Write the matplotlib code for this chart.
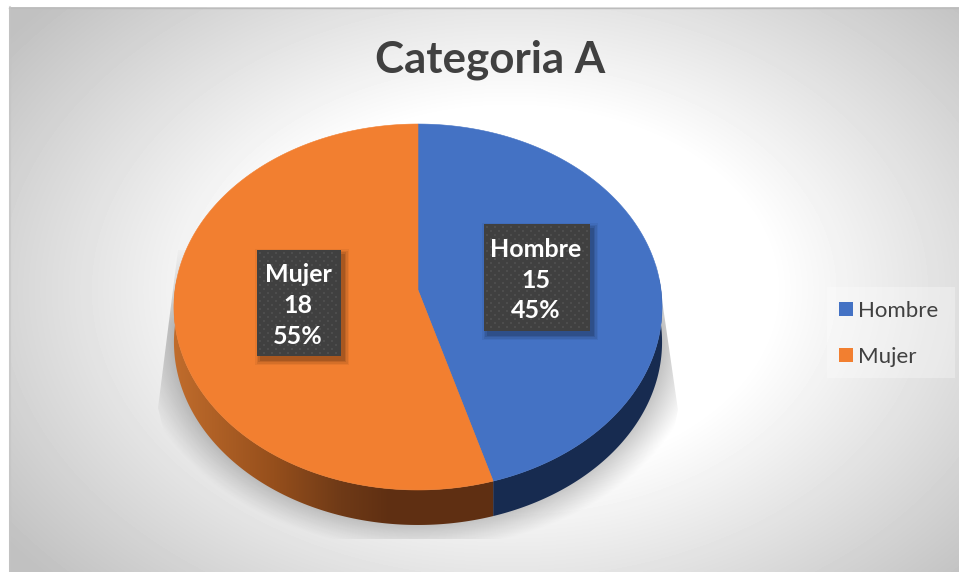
import numpy as np
import matplotlib
matplotlib.use("Agg")
import matplotlib.pyplot as plt
from matplotlib.patches import Patch, Polygon, Rectangle
from matplotlib.lines import Line2D

categories = ["Hombre", "Mujer"]
values = [15, 18]
top_colors = ["#4472C4", "#F27F30"]
title = "Categoria A"
FONT = "Lato"

W, H = 959, 572
fig = plt.figure(figsize=(W / 100, H / 100), dpi=100, facecolor="white")
ax = fig.add_axes([0, 0, 1, 1])
ax.set_xlim(0, W)
ax.set_ylim(H, 0)
ax.axis("off")

# Background: radial gradient
X0, X1, Y0, Y1 = 9, 959, 7, 572
yy, xx = np.mgrid[Y0:Y1, X0:X1] + 0.5
r = np.sqrt(((xx - 510) / 479) ** 2 + ((yy - 290) / 330) ** 2)
t = np.clip((r - 0.55) / 0.75, 0, 1)
grey = 1.0 - t * (1.0 - 0.755)
ax.imshow(grey, extent=(X0, X1, Y1, Y0), cmap="gray", vmin=0, vmax=1, zorder=0,
          aspect="auto", interpolation="bilinear")
ax.add_line(Line2D([X0, W], [Y0 + .5, Y0 + .5], color="#bcbcbc", lw=1, zorder=1))
ax.add_line(Line2D([X0 + 1, X0 + 1], [Y0, H], color="#c4c4c4", lw=1.5, alpha=.6, zorder=1))

# Pie geometry: a disc seen in perspective
cx, apex_y, rim_x, rim_y, persp, depth = 418, 290, 243, 181.4, 0.0929, 35


def arc(a0, a1, n=300, dy=0):
    th = np.radians(np.linspace(a0, a1, n))
    w = 1 + persp * np.cos(th)
    return cx + rim_x * np.sin(th) / w, apex_y - rim_y * np.cos(th) / w + dy


# Ground shadow, cut by a trapezoid
sr = np.sqrt(((xx - 418) / 285) ** 2 + ((yy - 335) / 215) ** 2)
alpha = np.clip((1.0 - sr) / 0.14, 0, 1) ** 1.1 * 0.24 * np.clip((yy - 235) / 90, 0, 1)
rgba = np.zeros(xx.shape + (4,))
rgba[..., 3] = alpha
im = ax.imshow(rgba, extent=(X0, X1, Y1, Y0), zorder=2, aspect="auto", interpolation="bilinear")
clip = Polygon([(178, 250), (657, 265), (678, 410), (650, 539), (190, 539), (158, 408)],
               transform=ax.transData, closed=True, fc="none", ec="none")
ax.add_patch(clip)
im.set_clip_path(clip)

fracs = np.array(values) / sum(values)
bounds = np.concatenate([[0], np.cumsum(fracs) * 360])


def rgb(h):
    return [int(h[i:i + 2], 16) / 255 for i in (1, 3, 5)]


# Side wall, shaded with a horizontal gradient
side_stops = [
    (np.array([rgb("#172B50"), rgb("#172B50")]), [493, 662]),
    (np.array([rgb("#C06C2C"), rgb("#964F1C"), rgb("#6F3A17"), rgb("#5F2F12"), rgb("#5F2F12")]),
     [174, 273, 340, 390, 493]),
]
for i in range(len(values)):
    a0, a1 = bounds[i], bounds[i + 1]
    a0c = max(a0, 85)
    a1c = min(a1, 275)
    x, y = arc(a0c, a1c)
    xb, yb = arc(a1c, a0c, dy=depth)
    poly = Polygon(np.column_stack([np.r_[x, xb], np.r_[y, yb]]), closed=True,
                   fc="none", ec="none", transform=ax.transData)
    ax.add_patch(poly)
    cols, stops = side_stops[i]
    xs = np.arange(150, 680)
    grad = np.stack([np.interp(xs, stops, cols[:, c]) for c in range(3)], axis=-1)[None, :, :]
    g = ax.imshow(grad, extent=(150, 680, 560, 280), zorder=3, aspect="auto")
    g.set_clip_path(poly)

# Top surface
for i, (c, col) in enumerate(zip(categories, top_colors)):
    x, y = arc(bounds[i], bounds[i + 1])
    ax.fill(np.r_[cx, x], np.r_[apex_y, y], color=col, lw=0.4, zorder=4)

# Data labels
boxes = [(484, 224, 106, 107), (257, 250, 84, 106)]
for cat, val, frac, (bx, by, bw, bh) in zip(categories, values, fracs, boxes):
    for grow, a in [(5, .05), (3.5, .07), (2, .09), (0.5, .12)]:
        ax.add_patch(Rectangle((bx + 3 - grow, by + 4 - grow), bw + 2 * grow, bh + 2 * grow,
                               fc="black", ec="none", alpha=a, zorder=5))
    ax.add_patch(Rectangle((bx, by), bw, bh, fc="#404040", ec="none", zorder=6))
    gx, gy = np.meshgrid(np.arange(bx + 3, bx + bw - 1, 4.0), np.arange(by + 3, by + bh - 1, 4.0))
    keep = (np.round((gx - bx - 3) / 4) + np.round((gy - by - 3) / 4)) % 2 == 0
    ax.scatter(gx[keep], gy[keep], s=3.0, marker="s", color="#4d4d4d", lw=0, zorder=6.5)
    ax.text(bx + bw / 2 - 1, by + bh / 2 + 2.5, f"{cat}\n{val}\n{frac:.0%}", color="white",
            fontsize=18, fontweight="bold", family=FONT, ha="center", va="center",
            linespacing=1.42, zorder=7)

ax.text(490, 60, title, color="#404040", fontsize=31.6, fontweight="bold", family=FONT,
        ha="center", va="center", zorder=7)

# Legend
ax.add_patch(Rectangle((827, 287), 128, 91, fc="white", ec="none", alpha=0.3, zorder=7.5))
handles = [Patch(fc=c, ec="none", label=l) for c, l in zip(top_colors, categories)]
leg = ax.legend(handles=handles, loc="upper left", bbox_to_anchor=(839 / W, 1 - 301 / H),
                borderaxespad=0, frameon=False, handlelength=0.63, handleheight=0.63,
                handletextpad=0.22, labelspacing=1.17, borderpad=0,
                prop={"family": FONT, "size": 16}, labelcolor="#404040")
leg.set_zorder(8)

fig.savefig("out.png", dpi=100, facecolor="white")
